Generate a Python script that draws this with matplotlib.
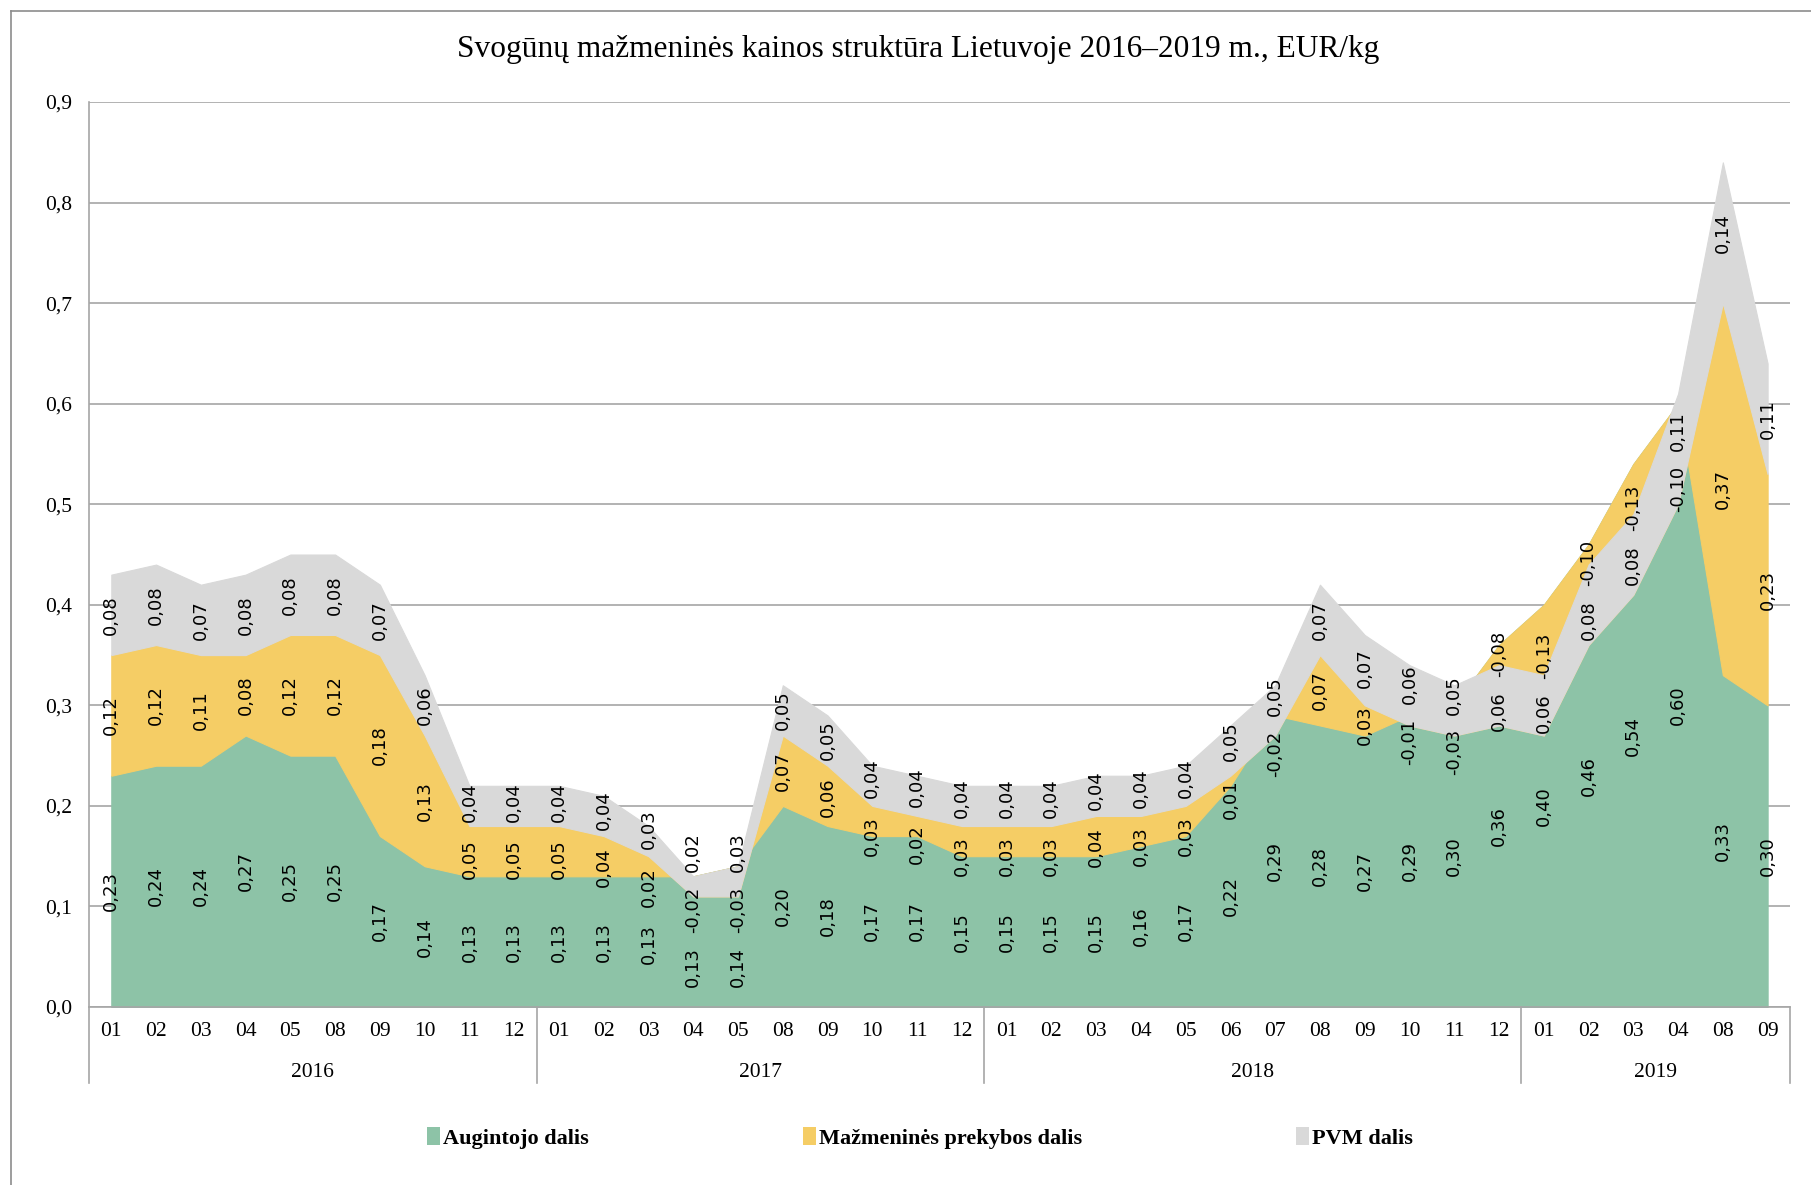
import numpy as np
import matplotlib
matplotlib.use("Agg")
import matplotlib.pyplot as plt
from matplotlib.patches import Patch
from matplotlib.lines import Line2D
from matplotlib.ticker import FuncFormatter

# mėnesiai ir metai (kategorijų ašis)
menesiai = ['01', '02', '03', '04', '05', '08', '09', '10', '11', '12',
            '01', '02', '03', '04', '05', '08', '09', '10', '11', '12',
            '01', '02', '03', '04', '05', '06', '07', '08', '09', '10', '11', '12',
            '01', '02', '03', '04', '08', '09']
metai = ['2016', '2017', '2018', '2019']
metu_menesiu_sk = [10, 10, 12, 6]

# kainos dalys, EUR/kg
augintojo = [0.23, 0.24, 0.24, 0.27, 0.25, 0.25, 0.17, 0.14, 0.13, 0.13,
             0.13, 0.13, 0.13, 0.13, 0.14, 0.20, 0.18, 0.17, 0.17, 0.15,
             0.15, 0.15, 0.15, 0.16, 0.17, 0.22, 0.29, 0.28, 0.27, 0.29, 0.30, 0.36,
             0.40, 0.46, 0.54, 0.60, 0.33, 0.30]
mazmenines = [0.12, 0.12, 0.11, 0.08, 0.12, 0.12, 0.18, 0.13, 0.05, 0.05,
              0.05, 0.04, 0.02, -0.02, -0.03, 0.07, 0.06, 0.03, 0.02, 0.03,
              0.03, 0.03, 0.04, 0.03, 0.03, 0.01, -0.02, 0.07, 0.03, -0.01, -0.03, -0.08,
              -0.13, -0.10, -0.13, -0.10, 0.37, 0.23]
pvm = [0.08, 0.08, 0.07, 0.08, 0.08, 0.08, 0.07, 0.06, 0.04, 0.04,
       0.04, 0.04, 0.03, 0.02, 0.03, 0.05, 0.05, 0.04, 0.04, 0.04,
       0.04, 0.04, 0.04, 0.04, 0.04, 0.05, 0.05, 0.07, 0.07, 0.06, 0.05, 0.06,
       0.06, 0.08, 0.08, 0.11, 0.14, 0.11]

serijos = ['Augintojo dalis', 'Mažmeninės prekybos dalis', 'PVM dalis']
spalvos = ['#8DC3A7', '#F5CD65', '#D9D9D9']

serif = ['Liberation Serif', 'DejaVu Serif']
pilka = '#A6A6A6'

ATSTUMAS = 0.057      # mažiausias atstumas tarp žymų centrų (y vienetais)
APATINE_RIBA = 0.04   # žyma neturi išlįsti žemiau ašies
SVORIAI = [1.0, 1.0, 2.0]


def isdelioti(centrai, svoriai):
    """Išstumia vieno stulpelio žymas taip, kad jos nesidengtų."""
    # lygūs centrai lieka serijų tvarka
    tvarka = sorted(range(len(centrai)), key=lambda k: (round(centrai[k], 6), k))
    c = np.array(centrai)[tvarka]
    w = np.array(svoriai)[tvarka]
    grupes = []  # [pradžia, pabaiga, bazė]
    for i in range(len(c)):
        grupes.append([i, i, c[i]])
        while len(grupes) > 1:
            a, b = grupes[-2], grupes[-1]
            if b[2] >= a[2] + (a[1] - a[0] + 1) * ATSTUMAS:
                break
            s, e = a[0], b[1]
            idx = np.arange(s, e + 1)
            baze = np.sum(w[idx] * (c[idx] - (idx - s) * ATSTUMAS)) / np.sum(w[idx])
            grupes[-2:] = [[s, e, baze]]
    poz = np.empty(len(c))
    for s, e, baze in grupes:
        for i in range(s, e + 1):
            poz[i] = baze + (i - s) * ATSTUMAS
    poz[0] = max(poz[0], APATINE_RIBA)
    for i in range(1, len(poz)):
        poz[i] = max(poz[i], poz[i - 1] + ATSTUMAS)
    rez = np.empty(len(c))
    rez[tvarka] = poz
    return rez


fig = plt.figure(figsize=(18.11, 11.85), dpi=100)
ax = fig.add_axes([0.0491, 0.1502, 0.9393, 0.7637])

x = np.arange(len(menesiai))
duomenys = [np.array(augintojo), np.array(mazmenines), np.array(pvm)]

# sukrautos sritys (kiekviena sritis tarp sukauptų sumų)
sritys = ax.stackplot(x, *duomenys, colors=spalvos, linewidth=0.8)
for s, c in zip(sritys, spalvos):
    s.set_edgecolor(c)

# reikšmių žymos: segmentų viduryje, išstumtos jei dengiasi
sukaupta = np.cumsum(np.vstack([np.zeros(len(x))] + duomenys), axis=0)
for xi in x:
    centrai = [sukaupta[k, xi] + duomenys[k][xi] / 2 for k in range(3)]
    for k, y in enumerate(isdelioti(centrai, SVORIAI)):
        v = duomenys[k][xi]
        ax.text(xi, y, f'{v:.2f}'.replace('.', ','), rotation=90,
                ha='center', va='center', fontsize=13,
                family='DejaVu Sans', color='black', zorder=5)

ax.set_xlim(-0.5, len(x) - 0.5)
ax.set_ylim(0, 0.9)
ax.set_yticks(np.arange(0, 0.91, 0.1))
ax.yaxis.set_major_formatter(FuncFormatter(lambda v, p: f'{v:.1f}'.replace('.', ',')))
ax.set_xticks(x)
ax.set_xticklabels(menesiai)
ax.tick_params(axis='both', length=0, labelsize=15.5)
ax.tick_params(axis='y', pad=12)
ax.tick_params(axis='x', pad=11)
for lbl in ax.get_xticklabels() + ax.get_yticklabels():
    lbl.set_family(serif)

ax.grid(axis='y', color=pilka, linewidth=1.2)
ax.set_axisbelow(True)
for k in ['top', 'right']:
    ax.spines[k].set_visible(False)
for k in ['left', 'bottom']:
    ax.spines[k].set_color(pilka)
    ax.spines[k].set_linewidth(1.2)

# metų grupės po mėnesiais
tr = ax.get_xaxis_transform()
riba = -0.5
ax.plot([riba, riba], [0, -0.084], transform=tr, color=pilka, lw=1.2, clip_on=False)
for m, n in zip(metai, metu_menesiu_sk):
    ax.text(riba + n / 2, -0.072, m, transform=tr, ha='center', va='center',
            fontsize=15.5, family=serif)
    riba += n
    ax.plot([riba, riba], [0, -0.084], transform=tr, color=pilka, lw=1.2, clip_on=False)

fig.text(0.507, 0.958, 'Svogūnų mažmeninės kainos struktūra Lietuvoje 2016–2019 m., EUR/kg',
         ha='center', va='center', fontsize=22.6, family=serif)

rankenos = [Patch(facecolor=c, edgecolor='none') for c in spalvos]
fig.legend(rankenos, serijos, loc='center', bbox_to_anchor=(0.508, 0.0397), ncol=3,
           frameon=False, handlelength=0.6, handleheight=0.85, handletextpad=0.15,
           columnspacing=9.6, prop={'family': serif, 'size': 16, 'weight': 'bold'})

# diagramos rėmelis
fig.add_artist(Line2D([0.006, 0.006], [0.0, 0.991], transform=fig.transFigure,
                      color='#8C8C8C', lw=1.2))
fig.add_artist(Line2D([0.006, 1.0], [0.991, 0.991], transform=fig.transFigure,
                      color='#8C8C8C', lw=1.2))

fig.savefig('out.png', dpi=100)
